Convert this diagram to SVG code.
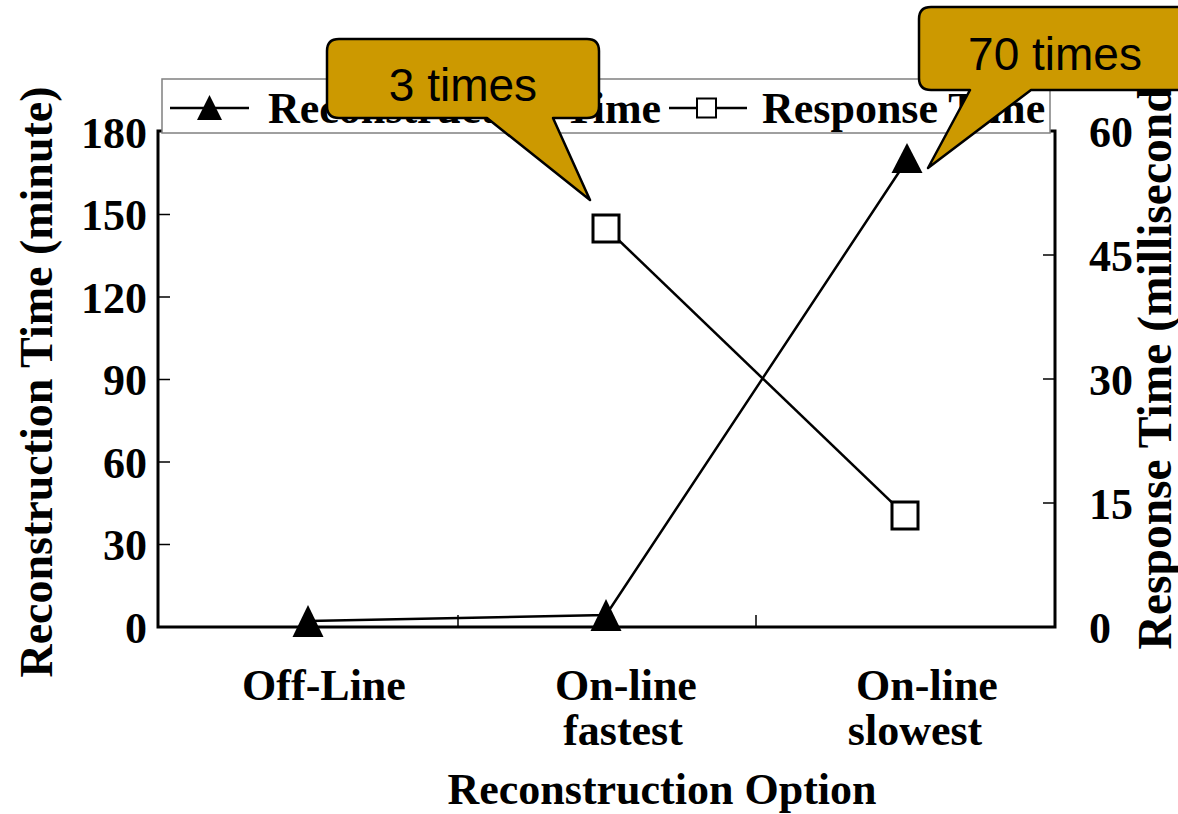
<svg xmlns="http://www.w3.org/2000/svg" width="1178" height="814" viewBox="0 0 1178 814">
<defs>
<style>
.t{font-family:"Liberation Serif","Times New Roman",serif;font-weight:bold;fill:#000}
.lab{font-size:44px}
.tick{font-size:44px}
.ttl{font-size:46px}
.ttl2{font-size:47.5px}
.c{font-family:"Liberation Sans",Arial,sans-serif;font-size:46px;fill:#000}
.frame{fill:none;stroke:#000;stroke-width:3}
.tk{stroke:#000;stroke-width:1.5}
.ser{fill:none;stroke:#000;stroke-width:2.5}
.tri{fill:#000}
.sq{fill:#fff;stroke:#000;stroke-width:3}
.callout{fill:#CC9900;stroke:#000;stroke-width:2.5;stroke-linejoin:round}
</style>
</defs>
<rect width="1178" height="814" fill="#fff"/>
<g id="axes">
<path class="frame" d="M158,131 V627 H1055 V131 Z"/>
<g class="tk">
<line x1="158" y1="214.5" x2="170" y2="214.5"/>
<line x1="158" y1="297" x2="170" y2="297"/>
<line x1="158" y1="379.5" x2="170" y2="379.5"/>
<line x1="158" y1="462" x2="170" y2="462"/>
<line x1="158" y1="544.5" x2="170" y2="544.5"/>
<line x1="1043" y1="255" x2="1055" y2="255"/>
<line x1="1043" y1="379" x2="1055" y2="379"/>
<line x1="1043" y1="503" x2="1055" y2="503"/>
<line x1="458" y1="615" x2="458" y2="627"/>
<line x1="756" y1="615" x2="756" y2="627"/>
</g>
<g class="t tick" text-anchor="end">
<text x="147" y="148">180</text>
<text x="147" y="230">150</text>
<text x="147" y="313">120</text>
<text x="147" y="395">90</text>
<text x="147" y="478">60</text>
<text x="147" y="560">30</text>
<text x="147" y="643">0</text>
</g>
<g class="t tick" text-anchor="start">
<text x="1089" y="147">60</text>
<text x="1089" y="271">45</text>
<text x="1089" y="395">30</text>
<text x="1089" y="519">15</text>
<text x="1089" y="643">0</text>
</g>
<g class="t lab" text-anchor="middle">
<text x="324" y="700">Off-Line</text>
<text x="626" y="700">On-line</text>
<text x="623" y="745">fastest</text>
<text x="927" y="700">On-line</text>
<text x="915" y="745">slowest</text>
<text x="662" y="804">Reconstruction Option</text>
</g>
<text class="t ttl" text-anchor="middle" transform="translate(52,382) rotate(-90)">Reconstruction Time (minute)</text>
<text class="t ttl2" text-anchor="middle" transform="translate(1171,360) rotate(-90)">Response Time (millisecond)</text>
</g>
<g id="connectors">
<polyline class="ser" points="308,621 606,615 907,160"/>
<polyline class="ser" points="606,228 905,515"/>
</g>
<g id="series-reconstruction">
<polygon class="tri" points="308,605 292.5,637 323.5,637"/>
<polygon class="tri" points="606,599 590.5,631 621.5,631"/>
<polygon class="tri" points="907,143 891.5,173 922.5,173"/>
</g>
<g id="series-response">
<rect class="sq" x="593" y="215" width="26" height="27"/>
<rect class="sq" x="892" y="502" width="26" height="27"/>
</g>
<g id="legend">
<rect x="162" y="79" width="888" height="54" fill="#fff" stroke="#808080" stroke-width="1.5"/>
<line x1="170" y1="108" x2="249" y2="108" stroke="#000" stroke-width="2.5"/>
<polygon class="tri" points="209.5,95 197,120 222,120"/>
<text class="t lab" x="268" y="123">Reconstruction Time</text>
<line x1="669" y1="108" x2="747" y2="108" stroke="#000" stroke-width="2.5"/>
<rect x="697" y="98.5" width="19" height="19" fill="#fff" stroke="#000" stroke-width="2"/>
<text class="t lab" x="762" y="123">Response Time</text>
</g>
<g id="callout-3times">
<path class="callout" d="M339,39 H587 Q599,39 599,51 V106 Q599,118 587,118 H553 L590,200 L487,118 H339 Q327,118 327,106 V51 Q327,39 339,39 Z"/>
<text class="c" x="463" y="101" text-anchor="middle">3 times</text>
</g>
<g id="callout-70times">
<path class="callout" d="M931,7 H1200 V90 H1031 L928,168 L970,90 H931 Q919,90 919,78 V19 Q919,7 931,7 Z"/>
<text class="c" x="1055" y="70" text-anchor="middle">70 times</text>
</g>
</svg>
